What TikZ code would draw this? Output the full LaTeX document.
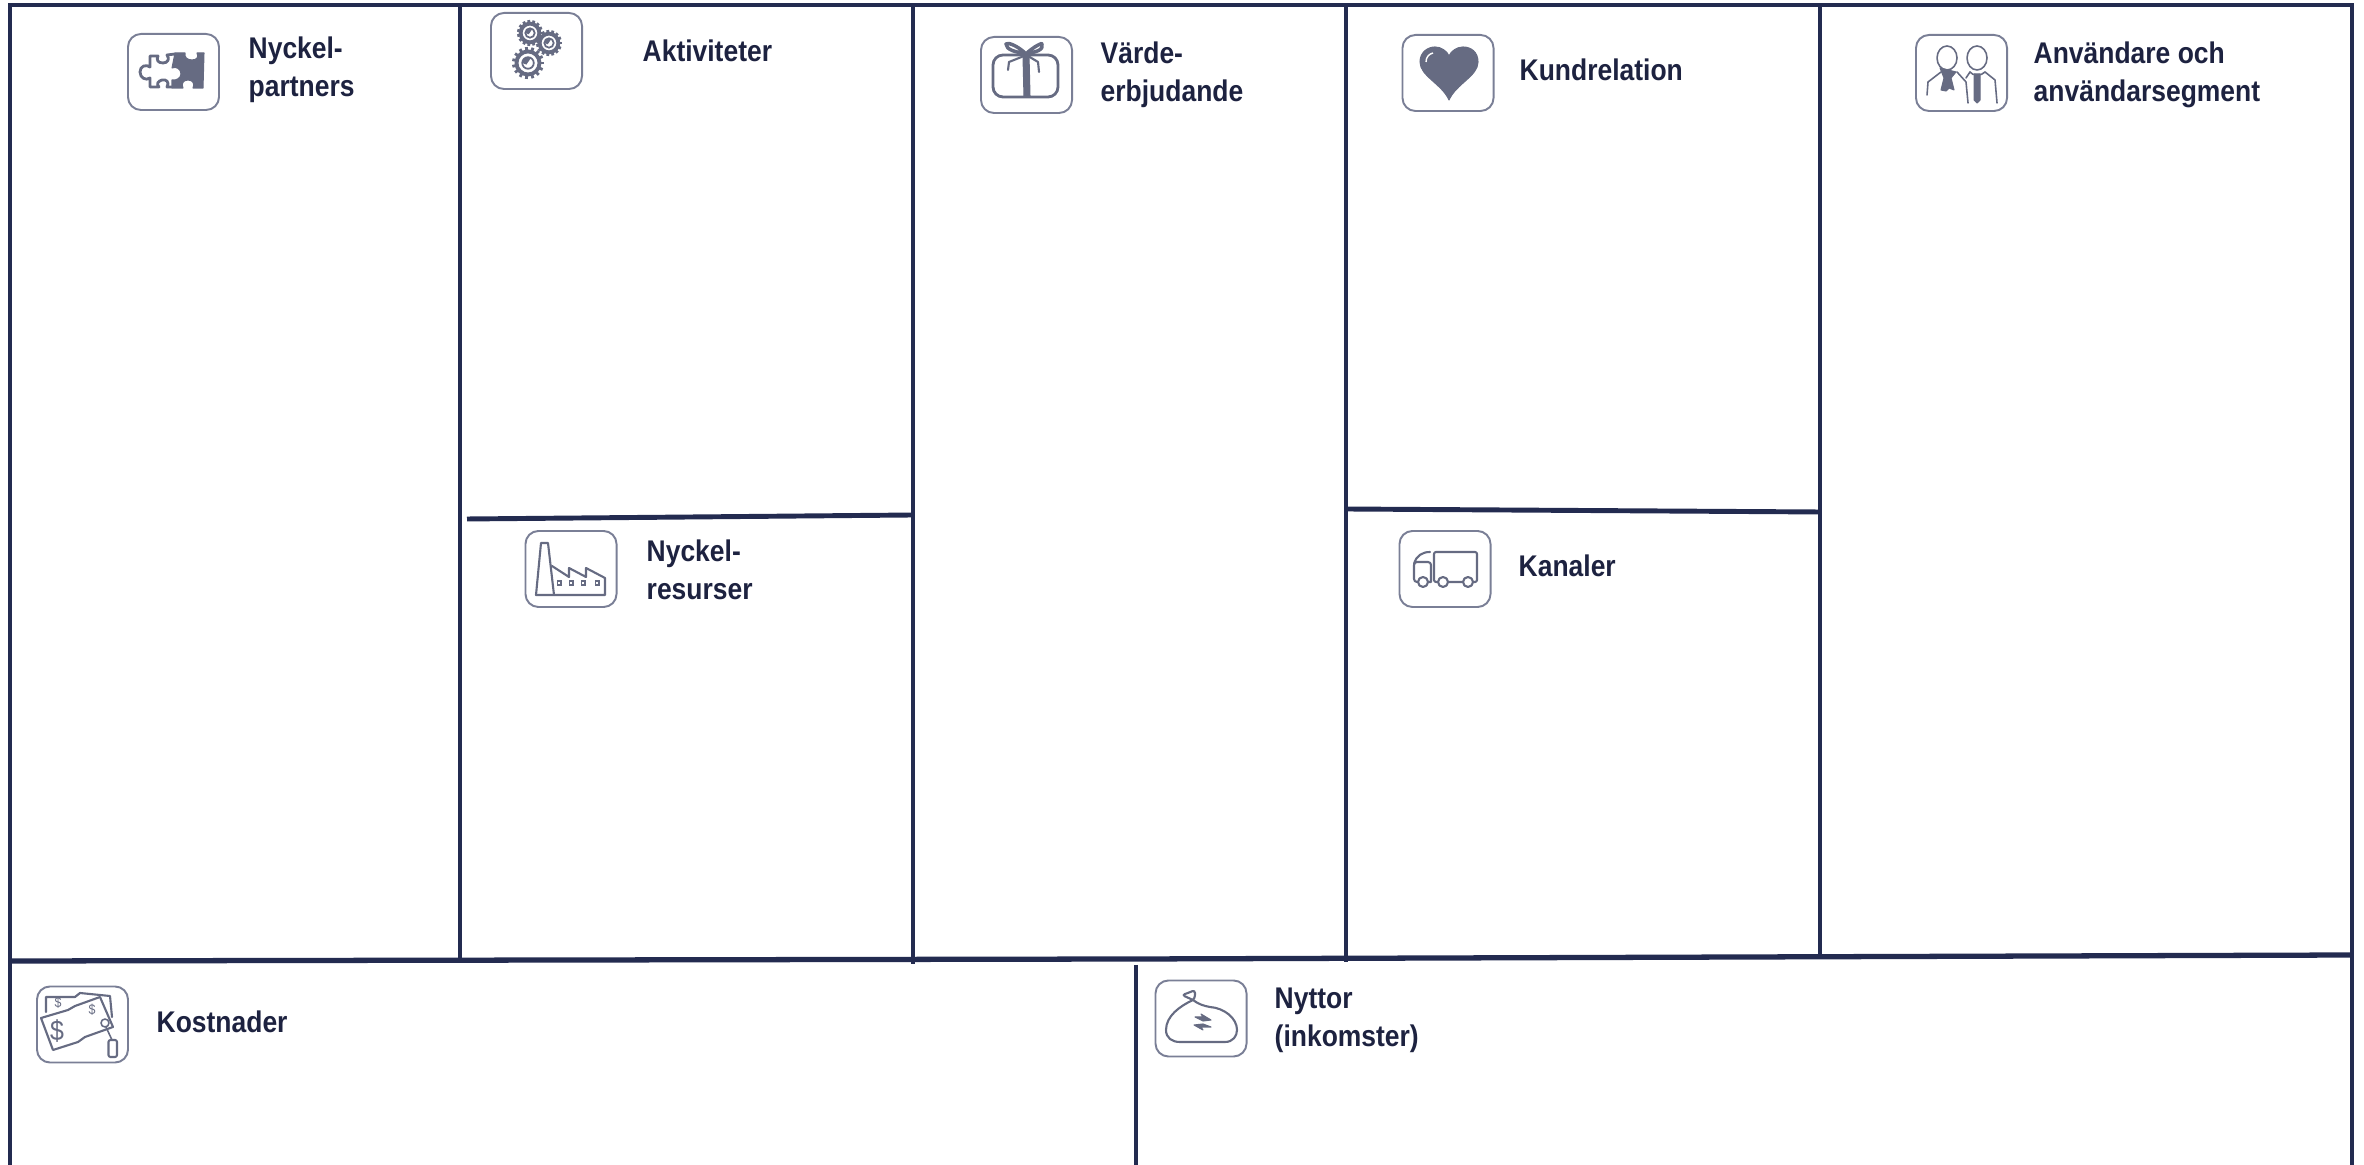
\documentclass[tikz,border=0pt]{standalone}
\usepackage{fontspec}
\setmainfont{Liberation Sans}[FakeStretch=0.885]
\usetikzlibrary{positioning}
\definecolor{framenavy}{HTML}{232B50}
\definecolor{labelnavy}{HTML}{1D2240}
\definecolor{icongrey}{HTML}{666B82}
\definecolor{boxgrey}{HTML}{7A7F96}
\tikzset{
  frameline/.style={draw=framenavy, line width=1.4pt},
  iconbox/.style={rectangle, rounded corners=0.13cm, minimum width=0.91cm, minimum height=0.76cm, inner sep=0pt, draw=boxgrey, line width=0.55pt},
  iconline/.style={draw=icongrey, line width=0.6pt, line join=round, line cap=round},
  iconfill/.style={fill=icongrey, draw=icongrey, line width=0.3pt, line join=round},
  celllabel/.style={anchor=north west, inner sep=0pt, align=left, text=labelnavy, font=\fontsize{8.5}{10.8}\selectfont\bfseries},
  dollarsign/.style={inner sep=0pt, text=icongrey}
}
\newcommand{\gearicon}[3]{
  \begin{scope}[shift={(#1,#2)}]
    \foreach \a in {0,24,...,336} \draw[icongrey, line width=0.8pt] (\a:#3*0.75) -- (\a:#3);
    \draw[icongrey, fill=white, line width=1.1pt] (0,0) circle [radius=#3*0.72];
    \draw[icongrey, line width=0.5pt] (0,0) circle [radius=#3*0.36];
    \fill[icongrey] (-#3*0.36,0) arc (180:300:#3*0.36) -- (-#3*0.1,#3*0.1) -- cycle;
  \end{scope}
}
\begin{document}
\begin{tikzpicture}[x=0.01cm, y=-0.01cm]
\useasboundingbox (0,0) rectangle (2364,1165);

% Outer frame and cell lines
\draw[frameline] (10,1165) -- (10,5) -- (2352,5) -- (2352,1165);
\draw[frameline, line width=1.5pt] (10,961) -- (1136,959) -- (2352,955);
\draw[frameline] (460,5) -- (460,961);
\draw[frameline] (913,5) -- (913,964);
\draw[frameline] (1346,5) -- (1346,962);
\draw[frameline] (1820,5) -- (1820,956);
\draw[frameline] (1136,965) -- (1136,1165);
\draw[frameline] (467,519) -- (913,515);
\draw[frameline] (1346,509) -- (1820,512);

% Nyckelpartners
\node[iconbox] (puzzlebox) at (173.5,72) {};
\draw[iconline, line width=0.8pt] (172,87) -- (167,87) .. controls (170,82) and (166,79) .. (162,80) .. controls (158,81) and (156,84) .. (159,87) -- (150,87) -- (150,78) .. controls (146,81) and (140,78) .. (140,72) .. controls (140,66) and (146,64) .. (150,67) -- (150,56) -- (158,56) .. controls (156,60) and (158,63) .. (163,63) .. controls (168,63) and (170,59) .. (167,55) -- (175,54);
\fill[iconfill] (175,53) -- (185,53) .. controls (184,57) and (187,60) .. (192,60) .. controls (197,60) and (199,57) .. (197,53) -- (204,53) -- (203,88) -- (193,88) .. controls (195,84) and (193,80) .. (188,80) .. controls (183,80) and (181,84) .. (183,88) -- (172,88) -- (172,80) .. controls (176,81) and (181,78) .. (181,74) .. controls (181,69) and (176,66) .. (172,68) -- cycle;
\node[celllabel] (partnerlabel) at (248,36) {Nyckel-\\partners};

% Aktiviteter
\node[iconbox] (gearbox) at (536.5,51) {};
\gearicon{530}{33}{13}
\gearicon{549}{43}{13}
\gearicon{528}{63}{16}
\node[celllabel] (activitylabel) at (642,39) {Aktiviteter};

% Nyckelresurser
\node[iconbox] (factorybox) at (571,569) {};
\draw[iconline] (536,595) -- (541,543) -- (548,543) -- (554,595);
\draw[iconline] (536,595) -- (605,595) -- (605,578) -- (586,568) -- (586,577) -- (569,568) -- (569,577) -- (552,566);
\foreach \wx in {559,571,583,597} \draw[icongrey, line width=0.4pt] (\wx-1.8,581) rectangle (\wx+1.8,585);
\node[celllabel] (resourcelabel) at (646,539) {Nyckel-\\resurser};

% Vardeerbjudande
\node[iconbox] (giftbox) at (1026.5,75) {};
\draw[iconline, line width=0.8pt, rounded corners=0.1cm] (993,55) rectangle (1058,97);
\fill[iconfill] (1023,56) -- (1029,56) -- (1030,97) -- (1024,97) -- cycle;
\draw[iconline, line width=1pt] (1026,54) .. controls (1018,46) and (1008,42) .. (1006,44) .. controls (1006,50) and (1016,52) .. (1026,54) .. controls (1034,46) and (1044,42) .. (1042,44) .. controls (1044,50) and (1036,52) .. (1026,54);
\draw[iconline] (1024,56) -- (1009,62) -- (1008,70);
\draw[iconline] (1028,56) -- (1038,62) -- (1039,72);
\node[celllabel] (valuelabel) at (1100,41) {Värde-\\erbjudande};

% Kundrelation
\node[iconbox] (heartbox) at (1448,73) {};
\fill[iconfill] (1449,100) .. controls (1442,84) and (1420,76) .. (1420,62) .. controls (1420,52) and (1428,47) .. (1435,47) .. controls (1441,47) and (1447,51) .. (1449,56) .. controls (1451,51) and (1457,47) .. (1463,47) .. controls (1471,47) and (1478,52) .. (1478,62) .. controls (1478,76) and (1456,84) .. (1449,100) -- cycle;
\draw[white, line width=0.4pt] (1426,62) .. controls (1426,57) and (1429,54) .. (1433,53);
\node[celllabel] (relationlabel) at (1519,58) {Kundrelation};

% Kanaler
\node[iconbox] (truckbox) at (1445,569) {};
\draw[iconline, rounded corners=0.02cm] (1434,552) rectangle (1477,582);
\draw[iconline, rounded corners=0.03cm] (1431,582) -- (1414,582) -- (1414,562) -- (1431,562) -- (1431,582);
\draw[iconline] (1414,564) .. controls (1416,556) and (1422,552) .. (1430,552);
\draw[iconline, fill=white] (1423,582) circle [radius=5];
\draw[iconline, fill=white] (1443,582) circle [radius=5];
\draw[iconline, fill=white] (1468,582) circle [radius=5];
\node[celllabel] (channellabel) at (1518,554) {Kanaler};

% Anvandare
\node[iconbox] (peoplebox) at (1961.5,73) {};
\draw[iconline, line width=0.45pt] (1947,58) ellipse [x radius=10, y radius=12];
\draw[iconline, line width=0.45pt] (1977,58) ellipse [x radius=10, y radius=12];
\draw[iconline, line width=0.45pt] (1927,95) -- (1928,82) -- (1941,72);
\draw[iconline, line width=0.45pt] (1957,72) -- (1966,82) -- (1968,103);
\draw[iconline, line width=0.45pt] (1966,78) -- (1970,72);
\draw[iconline, line width=0.45pt] (1985,72) -- (1995,80) -- (1997,103);
\draw[iconline, line width=0.45pt] (1970,72) .. controls (1972,76) and (1982,76) .. (1985,72);
\fill[iconfill] (1940,68) -- (1956,72) -- (1951,78) -- (1954,90) -- (1949,88) -- (1946,91) -- (1941,90) -- (1944,78) -- cycle;
\fill[iconfill] (1974,74) -- (1980,74) -- (1980,100) -- (1977,103) -- (1974,100) -- cycle;
\node[celllabel] (userlabel) at (2033,41) {Användare och\\användarsegment};

% Kostnader
\node[iconbox] (moneybox) at (82.5,1024.5) {};
\draw[iconline] (46,1012) -- (46,997) -- (75,997) -- (80,993) -- (110,996) -- (112,1017);
\draw[iconline, fill=white] (41,1018) -- (68,1010) -- (75,1006) -- (100,997) -- (113,1027) -- (85,1037) -- (78,1042) -- (53,1050) -- cycle;
\node[dollarsign, font=\fontsize{8}{8}\selectfont] (bigdollar) at (57,1031) {\$};
\node[dollarsign, font=\fontsize{4}{5}\selectfont] (smalldollar) at (92,1010) {\$};
\node[dollarsign, font=\fontsize{4}{4}\selectfont] (backdollar) at (58,1003) {\$};
\draw[iconline, line width=0.45pt] (105,1023) circle [radius=4];
\draw[iconline, line width=0.45pt] (106,1027) -- (112,1040);
\draw[iconline, rounded corners=0.02cm] (108.5,1040) rectangle (117,1057);
\node[celllabel] (costlabel) at (156,1010) {Kostnader};

% Nyttor
\node[iconbox] (bagbox) at (1201,1018.5) {};
\draw[iconline, rounded corners=0.03cm] (1193,1000) -- (1182,995) -- (1188,993) -- (1195,990) -- (1195,998) -- (1193,1000);
\draw[iconline] (1193,1000) .. controls (1180,1006) and (1166,1016) .. (1166,1030) .. controls (1166,1038) and (1172,1042) .. (1180,1042) -- (1225,1042) .. controls (1233,1042) and (1237,1036) .. (1237,1030) .. controls (1237,1018) and (1224,1008) .. (1210,1007) .. controls (1204,1006) and (1198,1004) .. (1193,1000);
\draw[iconfill] (1195,1017) -- (1203,1017) -- (1201,1014) -- (1211,1020) -- (1203,1021) -- cycle;
\draw[iconfill] (1211,1027) -- (1201,1027) -- (1203,1030) -- (1194,1025) -- (1203,1024) -- cycle;
\node[celllabel] (incomelabel) at (1274,987) {Nyttor\\(inkomster)};
\end{tikzpicture}
\end{document}
